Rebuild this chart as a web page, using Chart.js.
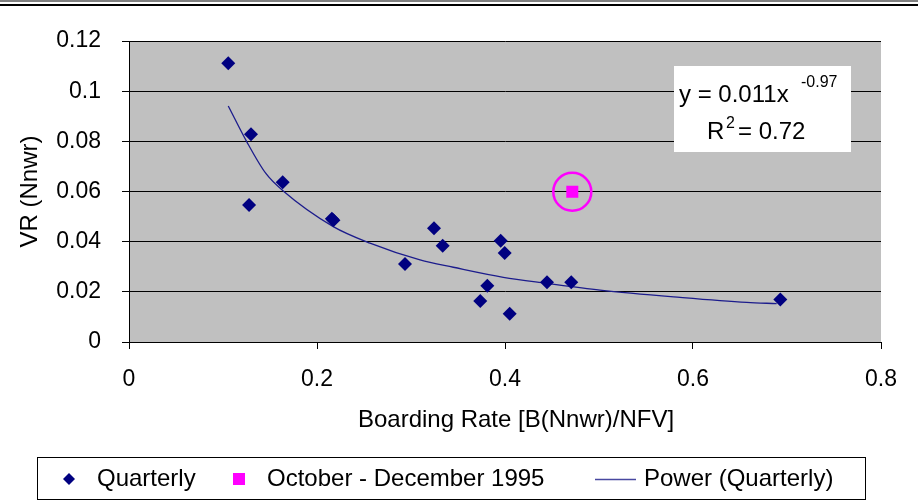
<!DOCTYPE html>
<html>
<head>
<meta charset="utf-8">
<script src="https://cdn.jsdelivr.net/npm/chart.js@4/dist/chart.umd.min.js"></script>
<style>
  html, body { margin: 0; padding: 0; background: #ffffff; }
  canvas { display: block; }
</style>
</head>
<body>
<canvas id="c" width="918" height="500"></canvas>
<script>
// ---- Data ----
const quarterlyX = [0.1056, 0.1298, 0.1277, 0.1635, 0.2158, 0.2175, 0.2936, 0.3245, 0.3337, 0.3954, 0.3997, 0.3812, 0.3737, 0.4050, 0.4447, 0.4705, 0.6929];
const quarterlyY = [0.1111, 0.0828, 0.0546, 0.0637, 0.0491, 0.0485, 0.0311, 0.0453, 0.0384, 0.0404, 0.0355, 0.0224, 0.0163, 0.0113, 0.0238, 0.0238, 0.0169];

const octDec1995X = [0.4716];
const octDec1995Y = [0.0599];

const powerTrendX = [0.1056, 0.1252, 0.1454, 0.1641, 0.2173, 0.2564, 0.3096, 0.3450, 0.3982, 0.4444, 0.5011, 0.5862, 0.6571, 0.6890];
const powerTrendY = [0.0941, 0.0799, 0.0673, 0.0602, 0.0460, 0.0394, 0.0327, 0.0298, 0.0258, 0.0234, 0.0207, 0.0178, 0.0158, 0.0153];

const xTickLabels = ['0', '0.2', '0.4', '0.6', '0.8'];
const yTickLabels = ['0', '0.02', '0.04', '0.06', '0.08', '0.1', '0.12'];

const seriesLabels = ['Quarterly', 'October - December 1995', 'Power (Quarterly)'];
const xAxisTitle = 'Boarding Rate [B(Nnwr)/NFV]';
const yAxisTitle = 'VR (Nnwr)';
const equationMain = 'y = 0.011x';
const equationExp = '-0.97';
const rSquaredBase = 'R';
const rSquaredSup = '2';
const rSquaredValue = '= 0.72';

// ---- Build datasets ----
const toPoints = (xs, ys) => xs.map((x, i) => ({ x: x, y: ys[i] }));

const FONT = '"Liberation Sans", Arial, sans-serif';
const NAVY = '#000080';
const PINK = '#ff00ff';

const decorPlugin = {
  id: 'decor',
  beforeDraw(chart) {
    const ctx = chart.ctx;
    const a = chart.chartArea;
    ctx.save();
    ctx.fillStyle = '#ffffff';
    ctx.fillRect(0, 0, chart.width, chart.height);
    // top border lines (cut-off frame)
    ctx.fillStyle = '#808080';
    ctx.fillRect(0, 0, chart.width, 2);
    ctx.fillStyle = '#000000';
    ctx.fillRect(0, 4, chart.width, 2);
    // plot area background
    ctx.fillStyle = '#c0c0c0';
    ctx.fillRect(a.left, a.top, a.right - a.left, a.bottom - a.top);
    ctx.restore();
  },
  afterDraw(chart) {
    const ctx = chart.ctx;
    const a = chart.chartArea;
    ctx.save();
    // x axis title (slightly right of the plot centre, as in the reference)
    ctx.fillStyle = '#000000';
    ctx.font = '24px ' + FONT;
    ctx.textAlign = 'center';
    ctx.textBaseline = 'middle';
    ctx.fillText(xAxisTitle, (a.left + a.right) / 2 + 11, a.bottom + 78);

    // equation box
    const bx = a.right - 207, by = a.top + 25;
    ctx.fillStyle = '#ffffff';
    ctx.fillRect(bx, by, 177, 86);
    ctx.fillStyle = '#000000';
    ctx.textBaseline = 'alphabetic';
    ctx.textAlign = 'left';
    ctx.font = '24px ' + FONT;
    ctx.fillText(equationMain, bx + 5, by + 36);
    ctx.font = '16px ' + FONT;
    ctx.fillText(equationExp, bx + 127, by + 21);
    ctx.font = '24px ' + FONT;
    ctx.fillText(rSquaredBase, bx + 33, by + 73);
    ctx.font = '16px ' + FONT;
    ctx.fillText(rSquaredSup, bx + 52, by + 62);
    ctx.font = '24px ' + FONT;
    ctx.fillText(rSquaredValue, bx + 64, by + 73);

    // legend
    const lx = 37.5, ly = 457.5, lw = 828, lh = 42;
    ctx.strokeStyle = '#000000';
    ctx.lineWidth = 1;
    ctx.strokeRect(lx, ly, lw, lh);
    const cy = 479;
    const ds = chart.data.datasets;
    // diamond
    ctx.fillStyle = NAVY;
    ctx.beginPath();
    ctx.moveTo(69, cy - 6); ctx.lineTo(75, cy); ctx.lineTo(69, cy + 6); ctx.lineTo(63, cy);
    ctx.closePath(); ctx.fill();
    // pink square
    ctx.fillStyle = PINK;
    ctx.fillRect(233, cy - 6, 12, 12);
    // trend line
    ctx.strokeStyle = '#4848a0';
    ctx.lineWidth = 1.5;
    ctx.beginPath(); ctx.moveTo(595, cy + 0.5); ctx.lineTo(636, cy + 0.5); ctx.stroke();
    ctx.fillStyle = '#000000';
    ctx.font = '24px ' + FONT;
    ctx.textBaseline = 'middle';
    ctx.fillText(ds[0].label, 97, cy);
    ctx.fillText(ds[1].label, 267, cy);
    ctx.fillText(ds[3].label, 644, cy);
    ctx.restore();
  }
};

new Chart(document.getElementById('c'), {
  type: 'scatter',
  data: {
    datasets: [
      {
        label: seriesLabels[0],
        data: toPoints(quarterlyX, quarterlyY),
        pointStyle: 'rectRot',
        pointRadius: 7,
        pointHoverRadius: 7,
        backgroundColor: NAVY,
        borderColor: NAVY,
        borderWidth: 0,
        order: 1
      },
      {
        label: seriesLabels[1],
        data: toPoints(octDec1995X, octDec1995Y),
        pointStyle: 'rect',
        pointRadius: 8.5,
        pointHoverRadius: 8.5,
        backgroundColor: PINK,
        borderColor: PINK,
        borderWidth: 0,
        order: 1
      },
      {
        label: '',
        data: toPoints(octDec1995X, octDec1995Y),
        pointStyle: 'circle',
        pointRadius: 19,
        pointHoverRadius: 19,
        backgroundColor: 'rgba(0,0,0,0)',
        borderColor: PINK,
        borderWidth: 2.5,
        order: 1
      },
      {
        label: seriesLabels[2],
        type: 'line',
        data: toPoints(powerTrendX, powerTrendY),
        borderColor: '#1c1c8c',
        borderWidth: 1.3,
        pointRadius: 0,
        fill: false,
        tension: 0.3,
        cubicInterpolationMode: 'monotone',
        order: 2
      }
    ]
  },
  options: {
    responsive: false,
    animation: false,
    devicePixelRatio: 1,
    layout: { padding: { left: 0, right: 37, top: 41, bottom: 0 } },
    plugins: {
      legend: { display: false },
      tooltip: { enabled: false }
    },
    scales: {
      x: {
        type: 'linear',
        min: 0,
        max: 0.8,
        afterBuildTicks: (s) => { s.ticks = xTickLabels.map(v => ({ value: parseFloat(v) })); },
        afterFit: (s) => { s.height = 158; },
        ticks: {
          callback: (v, i) => xTickLabels[i],
          font: { family: FONT, size: 23 },
          color: '#000000',
          padding: 17,
          maxRotation: 0
        },
        grid: { drawOnChartArea: false, drawTicks: true, tickLength: 7, color: '#000000' },
        border: { color: '#000000', width: 1 },
        title: { display: false }
      },
      y: {
        type: 'linear',
        min: 0,
        max: 0.12,
        afterBuildTicks: (s) => { s.ticks = yTickLabels.map(v => ({ value: parseFloat(v) })); },
        afterFit: (s) => { s.width = 129; },
        ticks: {
          callback: (v, i) => yTickLabels[i],
          font: { family: FONT, size: 23 },
          color: '#000000',
          padding: 21
        },
        grid: { drawOnChartArea: true, drawTicks: true, tickLength: 7, color: '#000000' },
        border: { color: '#000000', width: 1 },
        title: {
          display: true,
          text: yAxisTitle,
          font: { family: FONT, size: 24 },
          color: '#000000',
          padding: { top: 16, bottom: 0 }
        }
      }
    }
  },
  plugins: [decorPlugin]
});
</script>
</body>
</html>
